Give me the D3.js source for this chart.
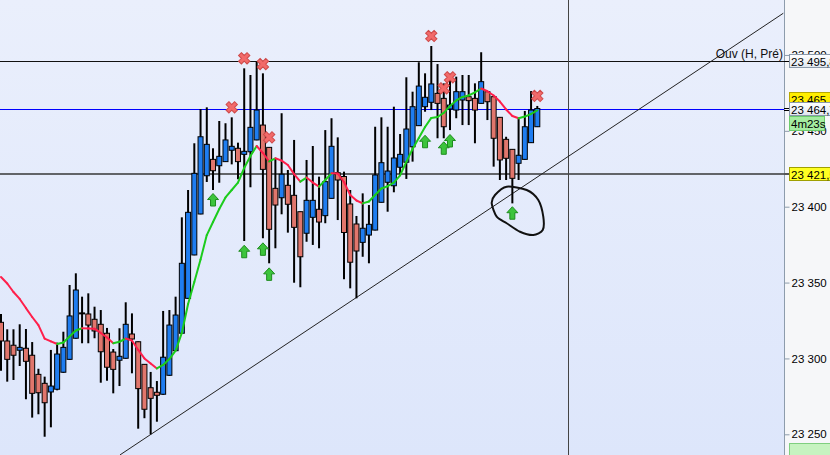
<!DOCTYPE html>
<html>
<head>
<meta charset="utf-8">
<script src="https://cdn.jsdelivr.net/npm/d3@7"></script>
<style>
  body { margin: 0; background: #fff; }
  svg { display: block; font-family: "Liberation Sans", Arial, sans-serif; }
</style>
</head>
<body>
<svg width="830" height="455"></svg>
<script>
// candles (one per bar, left to right)
const opens = [23323.8,23311.5,23308.7,23305.4,23306.7,23302.1,23289.5,23283.6,23277.9,23279.7,
  23290.9,23299.4,23313.3,23329.7,23329.3,23325.8,23322.5,23316.6,23304.2,23298.8,
  23300.1,23316.1,23311.0,23296.1,23280.7,23277.7,23276.4,23288.9,23305.1,23316.6,
  23339.6,23368.2,23395.2,23420.4,23431.2,23427.0,23429.7,23437.2,23438.5,23434.5,
  23436.2,23444.0,23453.8,23439.1,23412.1,23405.9,23414.1,23407.5,23396.7,23382.5,
  23393.0,23398.3,23394.1,23405.5,23422.4,23419.9,23401.8,23388.6,23376.5,23381.3,
  23384.6,23402.9,23416.1,23413.8,23426.0,23429.3,23439.5,23453.4,23465.9,23468.8,
  23474.7,23471.4,23464.4,23463.7,23470.3,23472.5,23471.4,23468.1,23475.8,23472.5,
  23458.9,23444.4,23437.8,23428.6,23431.2,23442.2,23452.7];
const highs = [23329.3,23319.2,23319.2,23322.5,23319.4,23310.8,23293.2,23288.0,23305.6,23310.4,
  23317.6,23348.4,23356.1,23340.7,23342.9,23334.1,23331.9,23320.1,23306.2,23319.9,
  23337.0,23329.7,23311.2,23296.3,23291.1,23285.1,23331.3,23331.9,23340.7,23393.0,
  23411.0,23441.8,23464.4,23465.5,23438.5,23456.5,23455.0,23458.9,23442.2,23491.2,
  23486.8,23495.6,23487.9,23439.3,23431.9,23461.6,23424.2,23444.0,23396.9,23430.8,
  23440.0,23419.8,23450.5,23458.3,23445.7,23423.1,23411.0,23393.9,23408.8,23401.1,
  23452.7,23458.9,23452.7,23465.9,23447.9,23485.3,23475.8,23495.2,23487.9,23505.9,
  23494.0,23481.3,23485.7,23485.7,23486.8,23486.8,23481.3,23501.8,23476.0,23472.7,
  23459.1,23446.1,23438.0,23458.3,23463.1,23476.2,23466.4];
const lows = [23291.9,23284.7,23285.8,23295.0,23273.1,23261.0,23263.2,23248.4,23254.6,23279.0,
  23290.5,23299.0,23313.0,23310.0,23310.0,23313.3,23284.0,23285.3,23277.0,23281.8,
  23299.8,23290.2,23253.7,23260.6,23250.0,23258.3,23276.0,23288.5,23304.8,23316.3,
  23339.3,23368.0,23395.0,23416.3,23411.0,23415.8,23429.5,23427.9,23418.1,23377.4,
  23412.8,23443.8,23379.2,23362.7,23372.6,23395.0,23382.9,23349.9,23346.9,23376.9,
  23374.8,23372.6,23389.1,23405.3,23391.2,23352.2,23346.2,23339.6,23367.0,23362.7,
  23384.4,23402.7,23396.7,23409.5,23420.9,23418.3,23429.7,23453.2,23462.6,23463.7,
  23445.1,23445.1,23450.5,23458.3,23453.8,23453.8,23441.8,23467.9,23457.1,23426.4,
  23417.6,23417.6,23402.2,23417.6,23431.0,23442.0,23452.5];
const closes = [23311.5,23299.4,23302.1,23307.3,23298.1,23277.0,23277.4,23270.8,23281.8,23302.9,
  23307.3,23328.0,23345.1,23329.7,23322.0,23318.1,23304.4,23294.2,23292.8,23301.4,
  23322.5,23312.8,23280.1,23266.5,23273.7,23275.7,23300.8,23322.0,23328.6,23362.7,
  23396.3,23422.0,23446.1,23441.1,23423.7,23433.2,23444.0,23439.8,23429.7,23436.5,
  23452.3,23463.7,23424.6,23385.1,23401.1,23421.4,23401.6,23386.4,23367.0,23404.2,
  23404.2,23389.9,23416.5,23439.8,23417.6,23383.0,23363.4,23370.8,23385.8,23388.4,
  23420.9,23429.0,23423.5,23432.1,23434.5,23451.2,23465.9,23479.5,23472.1,23480.9,
  23468.1,23452.7,23467.0,23475.8,23475.8,23469.9,23463.7,23482.4,23469.2,23445.1,
  23430.8,23431.9,23418.7,23433.9,23452.7,23463.7,23464.7];

// moving average
const maValues = [23353.7,23349.4,23343.8,23339.2,23333.2,23327.3,23322.0,23313.1,23311.2,23309.5,
  23310.5,23314.5,23318.4,23319.9,23319.8,23319.6,23316.8,23313.8,23310.0,23311.0,
  23313.1,23311.8,23305.6,23300.0,23296.7,23293.4,23295.7,23299.6,23305.2,23316.8,
  23335.9,23350.4,23365.2,23381.3,23389.9,23398.5,23406.1,23411.0,23415.9,23425.5,
  23433.4,23440.0,23435.4,23429.8,23431.9,23430.4,23427.5,23421.5,23416.5,23419.2,
  23415.9,23413.2,23417.6,23422.0,23421.9,23416.3,23407.7,23404.1,23402.2,23403.4,
  23407.7,23412.0,23413.5,23415.9,23420.6,23429.5,23438.0,23445.3,23452.5,23458.5,
  23459.1,23461.8,23466.4,23470.0,23472.3,23473.3,23475.3,23477.9,23476.1,23473.3,
  23469.3,23464.1,23459.8,23458.3,23459.4,23461.1,23463.4];

// signals
const sellIdx = [37, 39, 42, 43, 69, 71, 72, 86];
const sellPrice = [23465.5, 23497.8, 23494.0, 23445.7, 23512.5, 23478.0, 23485.3, 23473.0];
const buyIdx = [34, 39, 42, 43, 68, 71, 72, 82];
const buyPrice = [23404.4, 23370.3, 23371.9, 23355.4, 23442.8, 23438.5, 23443.3, 23395.7];

// axis and price levels
const tickValues = [23250, 23300, 23350, 23400, 23450, 23500];
const openLevel = 23495.8;
const lastPrice = 23464.7;
const bidPrice = 23465.3;
const supportLevel = 23421.5;
const timerText = "4m23s";

// trend line (bar index, price) and the hand drawn circle
const trendIdx = [19.08, 125.45];
const trendPrice = [23236.4, 23527.5];
const cursorIdx = 90.92;
const loopIdx = [79.22, 81.09, 84.30, 86.16, 86.96, 86.87, 85.36, 83.23, 81.09, 79.49, 78.69];
const loopPrice = [23407.7, 23413.2, 23411.0, 23404.4, 23393.4, 23384.6, 23381.3, 23383.5, 23389.1, 23393.4, 23402.2];

const fr = d3.formatLocale({ decimal: ",", thousands: " ", grouping: [3], currency: ["", ""] });
const fmtTick = fr.format(",");
const fmtPrice = fr.format(",.1f");

const svg = d3.select("svg");
const W = 830, H = 455, plotRight = 784;
const fontSize = 11;

const x = d3.scaleLinear().domain([0, 86]).range([1, 537.3]);
const y = d3.scaleLinear().domain([23250, 23400]).range([434.3, 206.7]);

const defs = svg.append("defs");
const bg = defs.append("linearGradient").attr("id", "bg").attr("x1", 0).attr("y1", 0).attr("x2", 0).attr("y2", 1);
bg.append("stop").attr("offset", "0%").attr("stop-color", "#eaeffc");
bg.append("stop").attr("offset", "100%").attr("stop-color", "#dde6fb");
const lbl = defs.append("linearGradient").attr("id", "lbl").attr("x1", 0).attr("y1", 0).attr("x2", 0).attr("y2", 1);
lbl.append("stop").attr("offset", "0%").attr("stop-color", "#ffffff");
lbl.append("stop").attr("offset", "100%").attr("stop-color", "#dfe6ee");
defs.append("clipPath").attr("id", "plot").append("rect")
  .attr("x", 0).attr("y", 0).attr("width", plotRight).attr("height", H);

svg.append("rect").attr("width", W).attr("height", H).attr("fill", "#f6f7f9");
svg.append("rect").attr("width", plotRight).attr("height", H).attr("fill", "url(#bg)");

const plot = svg.append("g").attr("clip-path", "url(#plot)");

// horizontal levels
plot.append("line").attr("x1", 0).attr("x2", plotRight)
  .attr("y1", Math.round(y(openLevel)) + 0.5).attr("y2", Math.round(y(openLevel)) + 0.5)
  .attr("stroke", "#111").attr("stroke-width", 1);
plot.append("line").attr("x1", 0).attr("x2", plotRight)
  .attr("y1", Math.round(y(lastPrice)) + 0.5).attr("y2", Math.round(y(lastPrice)) + 0.5)
  .attr("stroke", "#0000ff").attr("stroke-width", 1);
plot.append("line").attr("x1", 0).attr("x2", plotRight)
  .attr("y1", Math.round(y(supportLevel))).attr("y2", Math.round(y(supportLevel)))
  .attr("stroke", "#626468").attr("stroke-width", 2);

// cursor
plot.append("line").attr("x1", Math.round(x(cursorIdx)) + 0.5).attr("x2", Math.round(x(cursorIdx)) + 0.5)
  .attr("y1", 0).attr("y2", H).attr("stroke", "#444").attr("stroke-width", 1);

// trend line
plot.append("line")
  .attr("x1", x(trendIdx[0])).attr("y1", y(trendPrice[0]))
  .attr("x2", x(trendIdx[1])).attr("y2", y(trendPrice[1]))
  .attr("stroke", "#222").attr("stroke-width", 1);

// candles
const bars = d3.range(opens.length).map(i => ({
  i, o: opens[i], h: highs[i], l: lows[i], c: closes[i]
}));

const candle = plot.append("g").selectAll("g").data(bars).enter().append("g");
candle.append("line")
  .attr("x1", d => x(d.i)).attr("x2", d => x(d.i))
  .attr("y1", d => y(d.h)).attr("y2", d => y(d.l))
  .attr("stroke", "#000").attr("stroke-width", 2);
candle.filter(d => Math.abs(d.c - d.o) >= 0.5).append("rect")
  .attr("x", d => x(d.i) - 2.5).attr("width", 5)
  .attr("y", d => y(Math.max(d.o, d.c)))
  .attr("height", d => Math.abs(y(d.o) - y(d.c)))
  .attr("fill", d => d.c > d.o ? "#1f7df0" : "#e0766c")
  .attr("stroke", "#000").attr("stroke-width", 1);
candle.filter(d => Math.abs(d.c - d.o) < 0.5).append("line")
  .attr("x1", d => x(d.i) - 3).attr("x2", d => x(d.i) + 3)
  .attr("y1", d => y(d.o)).attr("y2", d => y(d.o))
  .attr("stroke", "#000").attr("stroke-width", 2);

// moving average, green when rising, red when falling
const maLine = d3.line().x(d => x(d[0])).y(d => y(d[1]));
const maG = plot.append("g");
for (let i = 0; i < maValues.length - 1; i++) {
  maG.append("path")
    .attr("d", maLine([[i, maValues[i]], [i + 1, maValues[i + 1]]]))
    .attr("fill", "none")
    .attr("stroke", maValues[i + 1] > maValues[i] ? "#1ccc1c" : "#ff1f4b")
    .attr("stroke-width", 2).attr("stroke-linecap", "round");
}

// circle drawn by hand
const loopPts = loopIdx.map((v, k) => [x(v), y(loopPrice[k])]);
plot.append("path")
  .attr("d", d3.line().curve(d3.curveCardinalClosed.tension(0.2))(loopPts))
  .attr("fill", "none").attr("stroke", "#111").attr("stroke-width", 2);

// sell markers
plot.append("g").selectAll("path").data(sellIdx).enter().append("path")
  .attr("d", d3.symbol().type(d3.symbolCross).size(80))
  .attr("transform", (d, k) => `translate(${x(d)},${y(sellPrice[k])}) rotate(45)`)
  .attr("fill", "#f26a6a").attr("stroke", "#cf4a4a").attr("stroke-width", 1);

// buy markers
const arrowPath = "M0,-6.5 L5.5,-0.5 L2.5,-0.5 L2.5,6 L-2.5,6 L-2.5,-0.5 L-5.5,-0.5 Z";
plot.append("g").selectAll("path").data(buyIdx).enter().append("path")
  .attr("d", arrowPath)
  .attr("transform", (d, k) => `translate(${x(d)},${y(buyPrice[k])})`)
  .attr("fill", "#3cc43c").attr("stroke", "#1d8c1d").attr("stroke-width", 1);

// right axis
const axisG = svg.append("g").attr("transform", `translate(${plotRight + 0.5},0)`)
  .call(d3.axisRight(y).tickValues(tickValues).tickSize(5).tickPadding(2).tickFormat(fmtTick));
axisG.select(".domain").attr("stroke", "#8d9cac").attr("d", `M0,0V${H}`);
axisG.selectAll(".tick line").attr("stroke", "#8d9cac");
axisG.selectAll("text").attr("fill", "#000").attr("font-size", fontSize + 0.5)
  .attr("font-family", "\"Liberation Sans\", Arial, sans-serif");

// labels on the axis
const labelG = svg.append("g");
function priceLabel(val, text, fill, stroke, dy) {
  const yy = Math.round(y(val)) + (dy || 0);
  labelG.append("rect").attr("x", plotRight + 5.5).attr("y", yy - 6.5).attr("width", 50).attr("height", 13)
    .attr("fill", fill).attr("stroke", stroke);
  labelG.append("text").attr("x", plotRight + 7).attr("y", yy + 4.5)
    .attr("font-size", fontSize + 0.5).attr("fill", "#000").text(text);
}
labelG.append("line").attr("x1", plotRight).attr("x2", plotRight + 5)
  .attr("y1", Math.round(y(openLevel)) + 0.5).attr("y2", Math.round(y(openLevel)) + 0.5).attr("stroke", "#000");
priceLabel(openLevel, fmtPrice(openLevel), "url(#lbl)", "#8a99aa");
priceLabel(bidPrice, fmtPrice(bidPrice), "#ffee00", "#b8a800", -9);
labelG.append("line").attr("x1", plotRight).attr("x2", plotRight + 5)
  .attr("y1", Math.round(y(lastPrice)) - 0.5).attr("y2", Math.round(y(lastPrice)) - 0.5).attr("stroke", "#000");
labelG.append("line").attr("x1", plotRight).attr("x2", plotRight + 5)
  .attr("y1", Math.round(y(lastPrice)) + 1.5).attr("y2", Math.round(y(lastPrice)) + 1.5).attr("stroke", "#000");
priceLabel(lastPrice, fmtPrice(lastPrice), "url(#lbl)", "#8a99aa");
// countdown
{
  const yy = Math.round(y(lastPrice)) + 15;
  labelG.append("rect").attr("x", plotRight + 5.5).attr("y", yy - 7.5).attr("width", 35).attr("height", 14)
    .attr("fill", "#a4eca0").attr("stroke", "#6ccc6c");
  labelG.append("text").attr("x", plotRight + 7).attr("y", yy + 4)
    .attr("font-size", fontSize + 0.5).attr("fill", "#000").text(timerText);
}
labelG.append("line").attr("x1", plotRight).attr("x2", plotRight + 5)
  .attr("y1", Math.round(y(supportLevel))).attr("y2", Math.round(y(supportLevel)))
  .attr("stroke", "#555").attr("stroke-width", 2);
priceLabel(supportLevel, fmtPrice(supportLevel), "#ffff22", "#a0a000");
labelG.append("rect").attr("x", plotRight + 5.5).attr("y", 443.5).attr("width", 50).attr("height", 14)
  .attr("fill", "#c6f3c0").attr("stroke", "#7fcf7f");

// level name
svg.append("text").attr("x", plotRight - 1).attr("y", Math.round(y(openLevel)) - 3)
  .attr("text-anchor", "end").attr("font-size", fontSize + 1).attr("fill", "#111").text("Ouv (H, Pré)");
</script>
</body>
</html>
